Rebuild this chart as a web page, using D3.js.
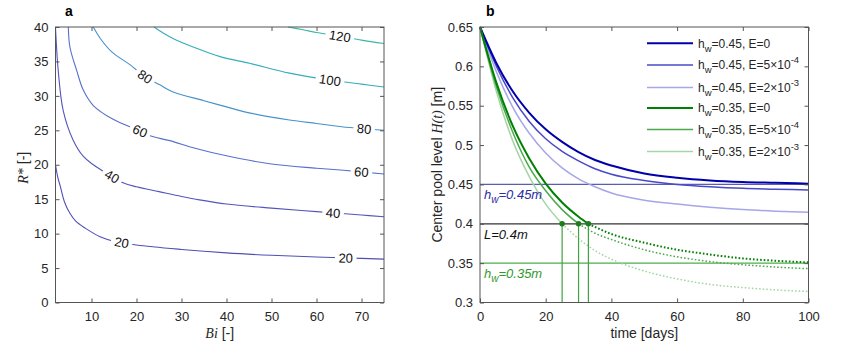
<!DOCTYPE html>
<html>
<head>
<meta charset="utf-8">
<script src="https://cdn.jsdelivr.net/npm/d3@7/dist/d3.min.js"></script>
<style>
  html, body { margin: 0; padding: 0; background: #fff; }
  svg { display: block; font-family: "Liberation Sans", Arial, sans-serif; }
</style>
</head>
<body>
<svg id="chart" width="850" height="341"></svg>
<script>
// ---------------- DATA: panel a (contours of R* vs Bi) ----------------
const contourLevels = [20, 40, 60, 80, 100, 120];
const contour20 = [[2,20],[2.5,18.2],[3.1,16.8],[4,14.6],[5.2,12.95],[6.5,11.8],[8.6,10.8],[11.9,9.55],[15,8.9],[20,8.35],[30,7.7],[40,7.2],[50,6.85],[60,6.6],[70,6.4],[75,6.3]];
const contour40 = [[2,40],[2.1,38.6],[2.6,33.7],[3.7,27.9],[5.9,23.6],[8.2,21.2],[10.4,20],[12,19.3],[17,17.4],[20,16.8],[25,16.1],[30,15.4],[34,14.9],[40,14.3],[50,13.7],[60,13.2],[70,12.7],[75,12.45]];
const contour60 = [[4.85,40],[5.2,37.1],[6.7,33.7],[8.2,30.8],[10.4,28.6],[14.8,26.6],[20.8,24.9],[23,24.2],[27.4,23.5],[33,22.4],[40,21.3],[50,20.1],[60,19.5],[66,19.2],[75,18.65]];
const contour80 = [[10.4,40],[12,38.3],[14.5,36.4],[18.6,34.5],[21.9,32.8],[25.2,31.6],[28,30.6],[35,29.3],[40,28.4],[45.3,27.5],[54,26.5],[60,26],[67.4,25.4],[75,25]];
const contour100 = [[23.9,40],[26,39.1],[28.2,38.3],[33,37],[38.6,35.7],[45.3,34.7],[54,33.3],[63,32.3],[70,31.7],[75,31.3]];
const contour120 = [[53.7,40],[57,39.6],[60,39.2],[65,38.7],[70,38.1],[75,37.6]];
const contourLabelBi = [[16.7, 66.5], [14.6, 63.7], [20.8, 70], [21.9, 70.6], [63], [65.2]];
const biTicks = [10, 20, 30, 40, 50, 60, 70];
const rTicks = [0, 5, 10, 15, 20, 25, 30, 35, 40];

// ---------------- DATA: panel b (center pool level) ----------------
const tBlue = [0, 5, 10, 15, 20, 25, 30, 35, 40, 50, 60, 70, 80, 90, 100];
const blueE0   = [0.65,0.604,0.568,0.541,0.520,0.504,0.491,0.481,0.474,0.464,0.4585,0.455,0.453,0.452,0.451];
const blueE5e4 = [0.65,0.600,0.560,0.530,0.508,0.492,0.480,0.470,0.463,0.455,0.450,0.447,0.445,0.444,0.443];
const blueE2e3 = [0.65,0.593,0.548,0.515,0.490,0.471,0.457,0.447,0.439,0.430,0.425,0.421,0.418,0.416,0.4146];
const tGreen = [0, 5, 10, 15, 20, 25, 30, 35, 40, 50, 60, 70, 80, 90, 100];
const greenE0   = [0.65,0.579,0.524,0.483,0.451,0.427,0.409,0.396,0.387,0.376,0.367,0.361,0.356,0.353,0.351];
const greenE5e4 = [0.65,0.574,0.516,0.472,0.442,0.418,0.400,0.388,0.380,0.367,0.358,0.352,0.348,0.345,0.343];
const greenE2e3 = [0.65,0.568,0.505,0.460,0.425,0.400,0.381,0.366,0.355,0.340,0.330,0.323,0.319,0.316,0.314];
const crossDays = [33, 30, 25];       // time when each green curve reaches L
const levelL = 0.4;
const hwHigh = 0.45, hwLow = 0.35;
const legendHw = ["0.45", "0.45", "0.45", "0.35", "0.35", "0.35"];
const legendE = [["0", null], ["5\u00d710", "-4"], ["2\u00d710", "-3"], ["0", null], ["5\u00d710", "-4"], ["2\u00d710", "-3"]];
const timeTicks = [0, 20, 40, 60, 80, 100];
const hTicks = [0.3, 0.35, 0.4, 0.45, 0.5, 0.55, 0.6, 0.65];

// ---------------- STYLE ----------------
const contourColors = ["#5050b4", "#5555bc", "#5870cc", "#4892c8", "#34aebb", "#3ab7a4"];
const blueColors = ["#0000aa", "#4a4ac8", "#a6a6e8"];
const greenColors = ["#008000", "#4ca84c", "#a4d6a4"];
const curveWidths = [2, 1.5, 1.5];
const axisColor = "#555";
const textColor = "#262626";

const svg = d3.select("#chart");

function drawFrame(g, x, y, w, h, xTicks, yTicks, yFmt) {
  g.append("g").attr("transform", `translate(0,${h})`)
    .call(d3.axisBottom(x).tickValues(xTicks).tickSize(-4).tickPadding(9))
    .call(s => s.select(".domain").remove());
  g.append("g")
    .call(d3.axisLeft(y).tickValues(yTicks).tickSize(-4).tickPadding(7).tickFormat(yFmt))
    .call(s => s.select(".domain").remove());
  g.append("g")
    .call(d3.axisTop(x).tickValues(xTicks).tickSize(-4).tickFormat(""))
    .call(s => s.select(".domain").remove());
  g.append("g").attr("transform", `translate(${w},0)`)
    .call(d3.axisRight(y).tickValues(yTicks).tickSize(-4).tickFormat(""))
    .call(s => s.select(".domain").remove());
  g.selectAll(".tick line").attr("stroke", axisColor);
  g.selectAll(".tick text").attr("fill", textColor).style("font-size", "13px")
    .style("font-family", '"Liberation Sans", Arial, sans-serif');
  g.append("rect").attr("x", 0).attr("y", 0).attr("width", w).attr("height", h)
    .attr("fill", "none").attr("stroke", axisColor).attr("stroke-width", 1);
}

// ================= Panel a =================
{
  const L = 55.5, T = 27, W = 328.5, H = 275.5;
  const g = svg.append("g").attr("transform", `translate(${L},${T})`);
  const x = d3.scaleLinear().domain([2, 75]).range([0, W]);
  const y = d3.scaleLinear().domain([0, 40]).range([H, 0]);

  const contours = [contour20, contour40, contour60, contour80, contour100, contour120];
  const line = d3.line().x(d => x(d[0])).y(d => y(d[1])).curve(d3.curveCatmullRom.alpha(0.5));
  const cg = g.append("g");
  contours.forEach((c, i) => {
    cg.append("path").datum(c).attr("d", line).attr("fill", "none")
      .attr("stroke", contourColors[i]).attr("stroke-width", 1.1);
  });

  function interpR(c, bi) {
    for (let k = 0; k < c.length - 1; k++) {
      if (bi >= c[k][0] && bi <= c[k + 1][0]) {
        const f = (bi - c[k][0]) / (c[k + 1][0] - c[k][0]);
        return c[k][1] + f * (c[k + 1][1] - c[k][1]);
      }
    }
    return c[c.length - 1][1];
  }
  contours.forEach((c, i) => {
    contourLabelBi[i].forEach(bi => {
      const px = x(bi), py = y(interpR(c, bi));
      const b0 = Math.max(c[0][0], bi - 2.5), b1 = Math.min(75, bi + 2.5);
      const ang = Math.atan2(y(interpR(c, b1)) - y(interpR(c, b0)), x(b1) - x(b0)) * 180 / Math.PI;
      const lg = g.append("g").attr("transform", `translate(${px},${py}) rotate(${ang})`);
      const txt = String(contourLevels[i]);
      const tw = txt.length * 7.3 + 7;
      lg.append("rect").attr("x", -tw / 2).attr("y", -6).attr("width", tw).attr("height", 12).attr("fill", "#fff");
      lg.append("text").attr("text-anchor", "middle").attr("dy", "0.36em")
        .style("font-size", "13px").attr("fill", "#111").text(txt);
    });
  });

  drawFrame(g, x, y, W, H, biTicks, rTicks, d3.format("d"));

  svg.append("text").attr("x", 65).attr("y", 16).style("font-size", "14px").style("font-weight", "bold")
    .attr("fill", "#000").text("a");
  const xl = svg.append("text").attr("x", L + W / 2).attr("y", 338).attr("text-anchor", "middle")
    .style("font-size", "14px").attr("fill", textColor);
  xl.append("tspan").style("font-family", '"Liberation Serif", "Times New Roman", serif').style("font-style", "italic").text("Bi");
  xl.append("tspan").text(" [-]");
  const yl = svg.append("text").attr("transform", `translate(28,${T + H / 2 + 3}) rotate(-90)`)
    .attr("text-anchor", "middle").style("font-size", "14px").attr("fill", textColor);
  yl.append("tspan").style("font-family", '"Liberation Serif", "Times New Roman", serif').style("font-style", "italic").text("R*");
  yl.append("tspan").text(" [-]");
}

// ================= Panel b =================
{
  const L = 480, T = 27, W = 328.5, H = 275.5;
  const g = svg.append("g").attr("transform", `translate(${L},${T})`);
  const x = d3.scaleLinear().domain([0, 100]).range([0, W]);
  const y = d3.scaleLinear().domain([0.3, 0.65]).range([H, 0]);
  const line = d3.line().x(d => x(d[0])).y(d => y(d[1])).curve(d3.curveMonotoneX);

  g.append("line").attr("x1", 0).attr("x2", W).attr("y1", y(hwHigh)).attr("y2", y(hwHigh))
    .attr("stroke", "#5c5cb0").attr("stroke-width", 1.2);
  g.append("line").attr("x1", 0).attr("x2", W).attr("y1", y(levelL)).attr("y2", y(levelL))
    .attr("stroke", "#333").attr("stroke-width", 1.2);
  g.append("line").attr("x1", 0).attr("x2", W).attr("y1", y(hwLow)).attr("y2", y(hwLow))
    .attr("stroke", "#4cad4c").attr("stroke-width", 1.2);

  const blues = [blueE0, blueE5e4, blueE2e3];
  [2, 1, 0].forEach(i => {
    g.append("path").datum(tBlue.map((t, k) => [t, blues[i][k]])).attr("d", line)
      .attr("fill", "none").attr("stroke", blueColors[i]).attr("stroke-width", curveWidths[i]);
  });

  const greens = [greenE0, greenE5e4, greenE2e3];
  [2, 1, 0].forEach(i => {
    const tc = crossDays[i];
    const pts = tGreen.map((t, k) => [t, greens[i][k]]);
    const solid = pts.filter(p => p[0] < tc).concat([[tc, levelL]]);
    const dotted = [[tc, levelL]].concat(pts.filter(p => p[0] > tc));
    g.append("path").datum(solid).attr("d", line).attr("fill", "none")
      .attr("stroke", greenColors[i]).attr("stroke-width", curveWidths[i]);
    g.append("path").datum(dotted).attr("d", line).attr("fill", "none")
      .attr("stroke", greenColors[i]).attr("stroke-width", curveWidths[i])
      .attr("stroke-dasharray", "1.6,2");
  });

  crossDays.forEach(tc => {
    g.append("line").attr("x1", x(tc)).attr("x2", x(tc)).attr("y1", y(levelL)).attr("y2", H)
      .attr("stroke", "#3fa33f").attr("stroke-width", 1.2);
  });
  crossDays.forEach(tc => {
    g.append("circle").attr("cx", x(tc)).attr("cy", y(levelL)).attr("r", 2.8).attr("fill", "#1d7d1d");
  });

  function hwText(yy, val, color) {
    const t = g.append("text").attr("x", 4).attr("y", yy).style("font-size", "13px")
      .style("font-style", "italic").attr("fill", color);
    t.append("tspan").text("h");
    t.append("tspan").attr("dy", 4).style("font-size", "10px").text("w");
    t.append("tspan").attr("dy", -4).text("=" + val + "m");
  }
  hwText(y(hwHigh) + 15, hwHigh, "#2b2ba8");
  g.append("text").attr("x", 4).attr("y", y(levelL) + 15).style("font-size", "13px")
    .style("font-style", "italic").attr("fill", "#111").text("L=" + levelL + "m");
  hwText(y(hwLow) + 15, hwLow, "#2e9a2e");

  drawFrame(g, x, y, W, H, timeTicks, hTicks, d3.format("~g"));

  const legendY = [43.3, 65, 87.5, 108, 129.5, 151.5];
  const legColors = blueColors.concat(greenColors);
  const legWidths = curveWidths.concat(curveWidths);
  legendY.forEach((ly, i) => {
    svg.append("line").attr("x1", 647).attr("x2", 693).attr("y1", ly).attr("y2", ly)
      .attr("stroke", legColors[i]).attr("stroke-width", legWidths[i]);
    const t = svg.append("text").attr("x", 698).attr("y", ly + 4.3).style("font-size", "12px").attr("fill", textColor);
    t.append("tspan").text("h");
    t.append("tspan").attr("dy", 4).style("font-size", "9.5px").text("w");
    t.append("tspan").attr("dy", -4).text("=" + legendHw[i] + ", E=" + legendE[i][0]);
    if (legendE[i][1]) {
      t.append("tspan").attr("dy", -6).style("font-size", "9.5px").text(legendE[i][1]);
    }
  });

  svg.append("text").attr("x", 486).attr("y", 16).style("font-size", "14px").style("font-weight", "bold")
    .attr("fill", "#000").text("b");
  svg.append("text").attr("x", L + W / 2).attr("y", 338).attr("text-anchor", "middle")
    .style("font-size", "14px").attr("fill", textColor).text("time [days]");
  const yl = svg.append("text").attr("transform", `translate(442,${T + H / 2}) rotate(-90)`)
    .attr("text-anchor", "middle").style("font-size", "14px").attr("fill", textColor);
  yl.append("tspan").text("Center pool level ");
  yl.append("tspan").style("font-family", '"Liberation Serif", "Times New Roman", serif').style("font-style", "italic").text("H(t)");
  yl.append("tspan").text(" [m]");
}
</script>
</body>
</html>
